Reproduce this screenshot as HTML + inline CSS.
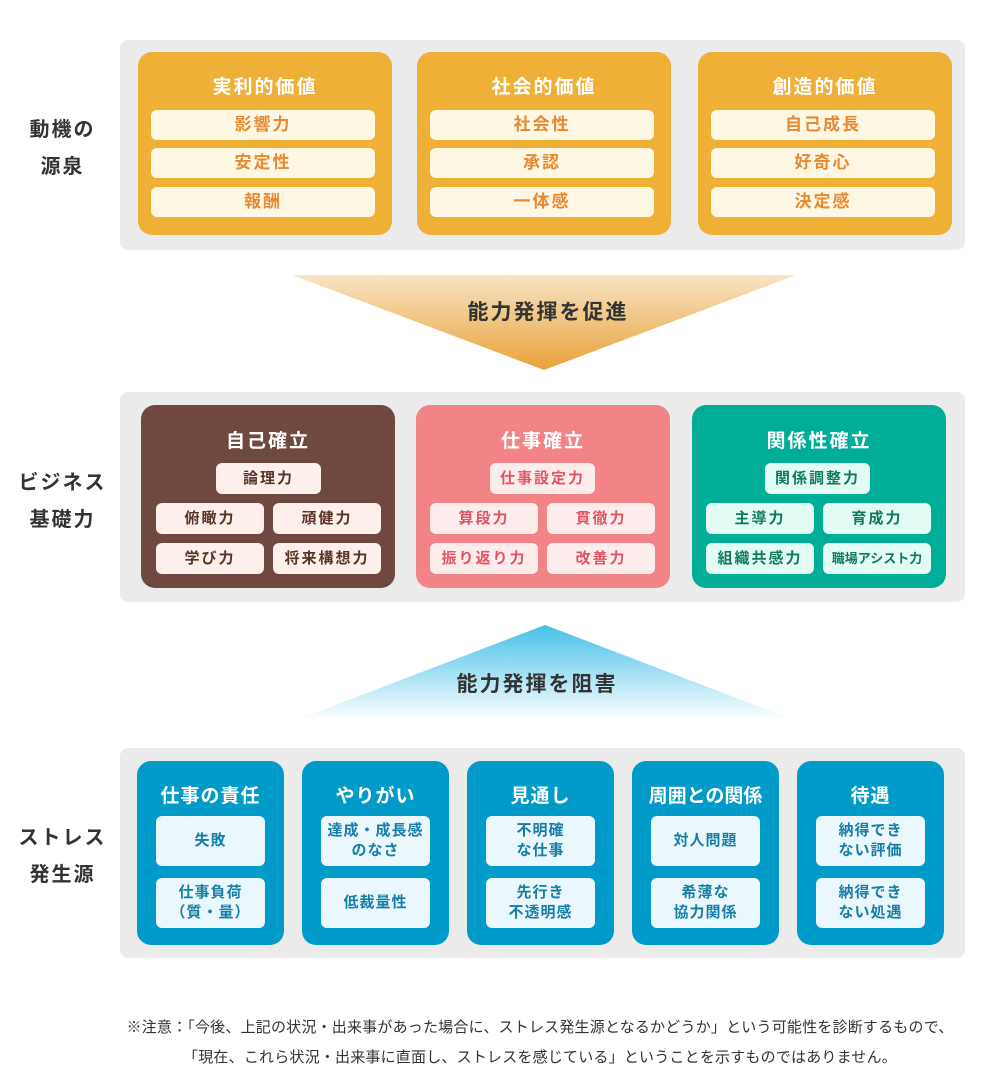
<!DOCTYPE html>
<html><head><meta charset="utf-8"><style>
body{margin:0;width:1000px;height:1091px;background:#fff;position:relative;font-family:"Liberation Sans","Noto Sans CJK JP",sans-serif;overflow:hidden}
.a{position:absolute}
.g{position:absolute;background:#ebebeb;border-radius:8px;left:120px;width:845px;height:210px}
.lab{position:absolute;left:10px;width:105px;text-align:center;font-size:20px;font-weight:bold;color:#333;line-height:37px;letter-spacing:2px}
.card{position:absolute;border-radius:14px}
.t{position:absolute;left:0;right:0;text-align:center;color:#fff;font-weight:bold;font-size:19px;letter-spacing:2px}
.it{position:absolute;border-radius:6px;text-align:center;font-weight:bold;font-size:16px;letter-spacing:2px;display:flex;align-items:center;justify-content:center;line-height:20px}
.o .it{background:#fef7e4;color:#e8892f;font-size:17px;left:13px;width:224px;height:30px}
.b1 .it{background:#fdefeb;color:#5a3328;font-size:15px;height:31px}
.b2 .it{background:#fdecec;color:#e05563;font-size:15px;height:31px}
.b3 .it{background:#e2fbf5;color:#0f7a5c;font-size:15px;height:31px}
.s .it{background:#eaf8fd;color:#167ea6;font-size:15px;left:19px;width:109px;height:50px;letter-spacing:1px}
</style></head><body>

<div class="lab" style="top:112px">動機の<br>源泉</div>
<div class="lab" style="top:465px">ビジネス<br>基礎力</div>
<div class="lab" style="top:820px">ストレス<br>発生源</div>

<div class="g" style="top:40px"></div>
<div class="card o" style="left:138px;top:52px;width:254px;height:183px;background:#efb038">
<div class="t" style="top:20px">実利的価値</div>
<div class="it" style="top:58px">影響力</div><div class="it" style="top:96px">安定性</div><div class="it" style="top:135px">報酬</div></div>
<div class="card o" style="left:417px;top:52px;width:254px;height:183px;background:#efb038">
<div class="t" style="top:20px">社会的価値</div>
<div class="it" style="top:58px">社会性</div><div class="it" style="top:96px">承認</div><div class="it" style="top:135px">一体感</div></div>
<div class="card o" style="left:698px;top:52px;width:254px;height:183px;background:#efb038">
<div class="t" style="top:20px">創造的価値</div>
<div class="it" style="top:58px">自己成長</div><div class="it" style="top:96px">好奇心</div><div class="it" style="top:135px">決定感</div></div>

<svg class="a" style="left:0;top:0" width="1000" height="1091">
<defs>
<linearGradient id="og" x1="0" y1="0" x2="0" y2="1"><stop offset="0" stop-color="#f8e4c4"/><stop offset="1" stop-color="#e8a23a"/></linearGradient>
<linearGradient id="bg" x1="0" y1="0" x2="0" y2="1"><stop offset="0" stop-color="#45c0e8"/><stop offset="1" stop-color="#ffffff"/></linearGradient>
</defs>
<polygon points="292,275 796,275 544,370" fill="url(#og)"/>
<polygon points="545,625 794,720 296,720" fill="url(#bg)"/>
<text x="548" y="319" text-anchor="middle" font-size="21" font-weight="bold" fill="#333" letter-spacing="2" font-family="Liberation Sans, Noto Sans CJK JP, sans-serif">能力発揮を促進</text>
<text x="537" y="691" text-anchor="middle" font-size="21" font-weight="bold" fill="#333" letter-spacing="2" font-family="Liberation Sans, Noto Sans CJK JP, sans-serif">能力発揮を阻害</text>
</svg>

<div class="g" style="top:392px"></div>
<div class="card b1" style="left:141px;top:405px;width:254px;height:183px;background:#6f4940">
<div class="t" style="top:21px">自己確立</div>
<div class="it" style="left:75px;width:105px;top:58px">論理力</div>
<div class="it" style="left:15px;width:108px;top:98px">俯瞰力</div><div class="it" style="left:132px;width:108px;top:98px">頑健力</div>
<div class="it" style="left:15px;width:108px;top:138px">学び力</div><div class="it" style="left:132px;width:108px;top:138px">将来構想力</div></div>
<div class="card b2" style="left:416px;top:405px;width:254px;height:183px;background:#f28387">
<div class="t" style="top:21px">仕事確立</div>
<div class="it" style="left:74px;width:105px;top:58px">仕事設定力</div>
<div class="it" style="left:14px;width:108px;top:98px">算段力</div><div class="it" style="left:131px;width:108px;top:98px">貫徹力</div>
<div class="it" style="left:14px;width:108px;top:138px">振り返り力</div><div class="it" style="left:131px;width:108px;top:138px">改善力</div></div>
<div class="card b3" style="left:692px;top:405px;width:254px;height:183px;background:#00ad96">
<div class="t" style="top:21px">関係性確立</div>
<div class="it" style="left:73px;width:105px;top:58px">関係調整力</div>
<div class="it" style="left:14px;width:108px;top:98px">主導力</div><div class="it" style="left:131px;width:108px;top:98px">育成力</div>
<div class="it" style="left:14px;width:108px;top:138px">組織共感力</div><div class="it" style="left:131px;width:108px;top:138px;font-size:13px;letter-spacing:0">職場アシスト力</div></div>

<div class="g" style="top:748px"></div>
<div class="card s" style="left:137px;top:761px;width:147px;height:184px;background:#009bc8">
<div class="t" style="top:20px;letter-spacing:1px">仕事の責任</div>
<div class="it" style="top:55px">失敗</div><div class="it" style="top:117px">仕事負荷<br>（質・量）</div></div>
<div class="card s" style="left:302px;top:761px;width:147px;height:184px;background:#009bc8">
<div class="t" style="top:20px;letter-spacing:1px">やりがい</div>
<div class="it" style="top:55px">達成・成長感<br>のなさ</div><div class="it" style="top:117px">低裁量性</div></div>
<div class="card s" style="left:467px;top:761px;width:147px;height:184px;background:#009bc8">
<div class="t" style="top:20px;letter-spacing:1px">見通し</div>
<div class="it" style="top:55px">不明確<br>な仕事</div><div class="it" style="top:117px">先行き<br>不透明感</div></div>
<div class="card s" style="left:632px;top:761px;width:147px;height:184px;background:#009bc8">
<div class="t" style="top:20px;letter-spacing:0">周囲との関係</div>
<div class="it" style="top:55px">対人問題</div><div class="it" style="top:117px">希薄な<br>協力関係</div></div>
<div class="card s" style="left:797px;top:761px;width:147px;height:184px;background:#009bc8">
<div class="t" style="top:20px;letter-spacing:1px">待遇</div>
<div class="it" style="top:55px">納得でき<br>ない評価</div><div class="it" style="top:117px">納得でき<br>ない処遇</div></div>

<div class="a" style="left:80px;width:920px;top:1013px;text-align:center;font-size:15px;letter-spacing:0.2px;color:#333;line-height:30px">※注意：「今後、上記の状況・出来事があった場合に、ストレス発生源となるかどうか」という可能性を診断するもので、<br>「現在、これら状況・出来事に直面し、ストレスを感じている」ということを示すものではありません。</div>
</body></html>
